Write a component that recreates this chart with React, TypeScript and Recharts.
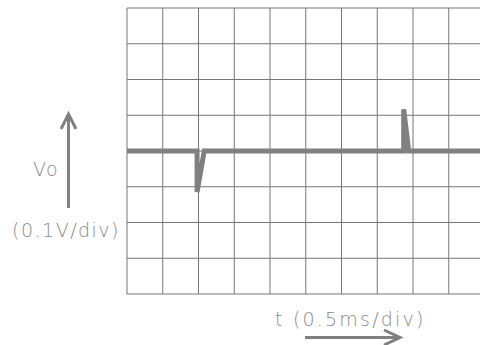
import React from "react";
import { LineChart, Line, XAxis, YAxis, CartesianGrid, Customized } from "recharts";

const timeMs = [0, 0.98, 0.98, 1.08, 3.87, 3.87, 3.94, 5];
const voltage = [0, 0, -0.115, 0, 0, 0.117, 0, 0];
const xTicks = [0, 0.5, 1, 1.5, 2, 2.5, 3, 3.5, 4, 4.5, 5];
const yTicks = [-0.4, -0.3, -0.2, -0.1, 0, 0.1, 0.2, 0.3, 0.4];
const yLabel = "Vo";
const yUnit = "(0.1V/div)";
const xLabel = "t  (0.5ms/div)";

const data = timeMs.map((t, i) => ({ t, v: voltage[i] }));

const GRAY = "#808080";
const FONT = { fontFamily: "DejaVu Sans", fontWeight: 200, fontSize: 19, fill: "#8a8a8a", letterSpacing: 1.5 } as const;

const Decor = () => (
  <g>
    <text x={33} y={175.5} {...FONT}>{yLabel}</text>
    <text x={12} y={237} {...FONT}>{yUnit}</text>
    <text x={275} y={325.5} {...FONT} letterSpacing={2.2}>{xLabel}</text>
    <g stroke={GRAY} strokeWidth={3} fill="none" strokeLinecap="butt">
      <line x1={68.5} y1={208} x2={68.5} y2={114} />
      <polyline points="61,129 68.5,114 76,129" />
      <line x1={305} y1={337.5} x2={400} y2={337.5} />
      <polyline points="384,330 400,337.5 384,345" />
    </g>
  </g>
);

export default function App() {
  return (
    <div style={{ position: "absolute", left: 0, top: 0, width: 480, height: 345, overflow: "hidden", background: "#fff" }}>
      <LineChart width={500} height={345} data={data} margin={{ top: 8, right: 15.5, bottom: 51, left: 127 }}>
        <XAxis dataKey="t" type="number" domain={[0, 5]} ticks={xTicks} hide />
        <YAxis type="number" domain={[-0.4, 0.4]} ticks={yTicks} hide />
        <CartesianGrid stroke="#777" strokeWidth={1} />
        <Line type="linear" dataKey="v" stroke={GRAY} strokeWidth={5} dot={false} isAnimationActive={false} strokeLinejoin="miter" />
        <Customized component={Decor} />
      </LineChart>
    </div>
  );
}
